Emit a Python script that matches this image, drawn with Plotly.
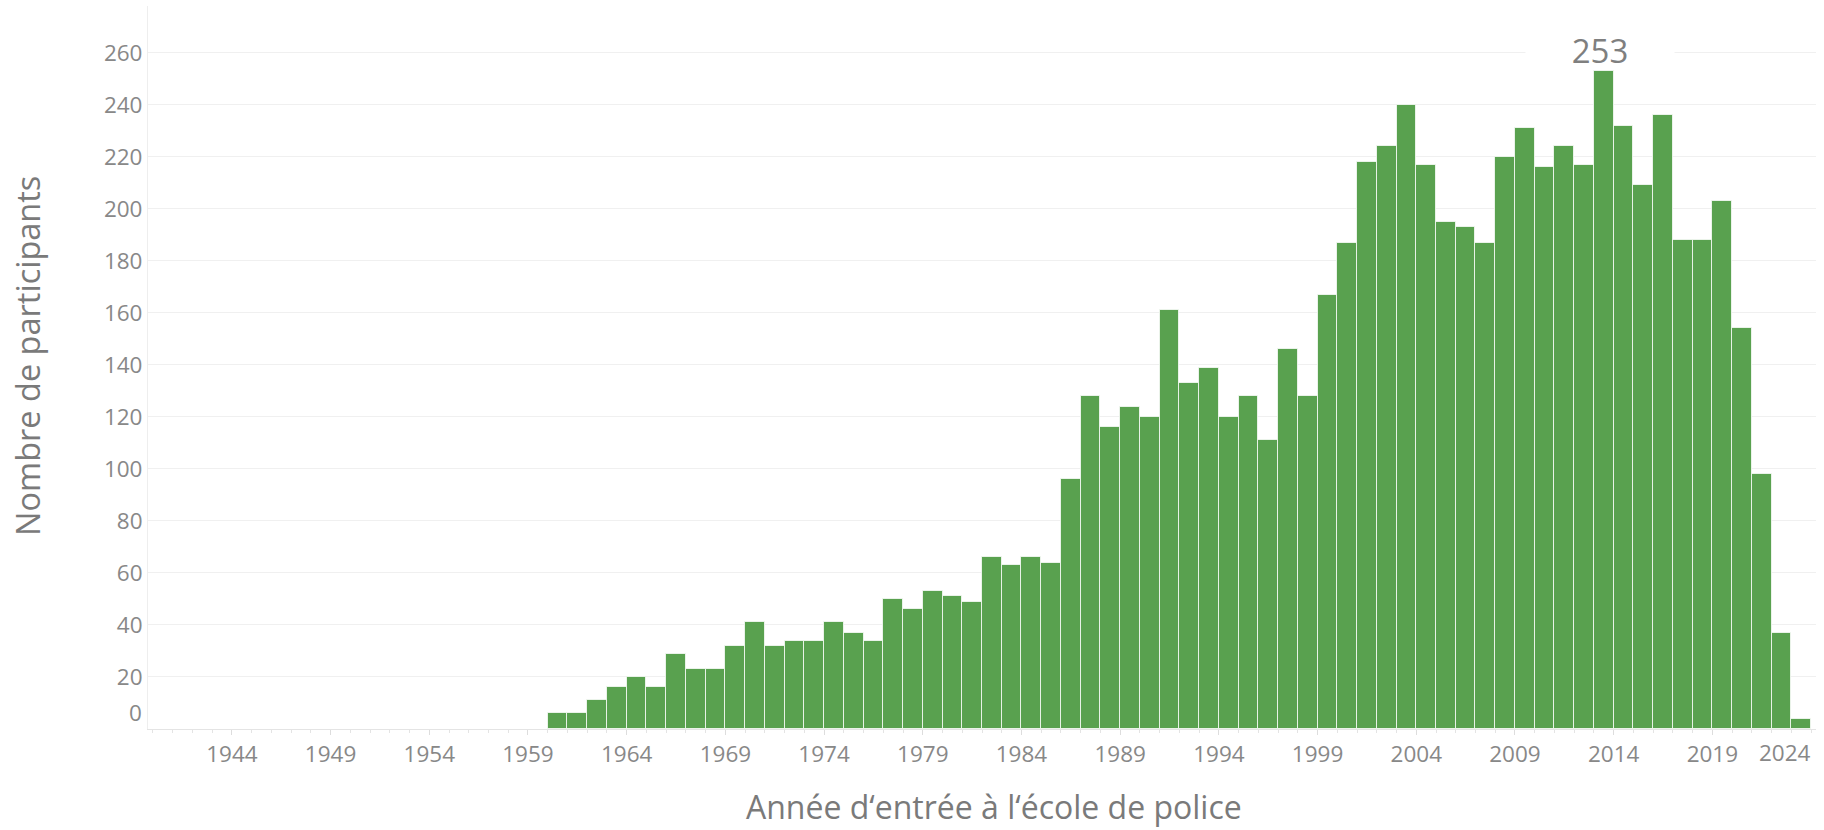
import plotly.graph_objects as go

# participants per year of entry (bins of one year)
years = list(range(1960, 2024))
participants = [
	6, 6, 11, 16, 20, 16, 29, 23, 23, 32,
	41, 32, 34, 34, 41, 37, 34, 50, 46, 53,
	51, 49, 66, 63, 66, 64, 96, 128, 116, 124,
	120, 161, 133, 139, 120, 128, 111, 146, 128, 167,
	187, 218, 224, 240, 217, 195, 193, 187, 220, 231,
	216, 224, 217, 253, 232, 209, 236, 188, 188, 203,
	154, 98, 37, 4,
]

x_ticks = list(range(1944, 2025, 5))
y_ticks = list(range(20, 261, 20))

x_title = "Année d‘entrée à l‘école de police"
y_title = "Nombre de participants"

font_name = "Open Sans"
grey_txt = "#888888"
title_txt = "#7a7a7a"
tick_size = 22.5

bars = go.Bar(
	x=[y + 0.5 for y in years],
	y=participants,
	width=1,
	marker=dict(color="#59a14f", line=dict(color="rgba(255,255,255,0.75)", width=1)),
	hovertemplate="%{customdata}: %{y}<extra></extra>",
	customdata=years,
)

fig = go.Figure(data=[bars])

peak = max(participants)
peak_year = years[participants.index(peak)]

fig.update_layout(
	width=1824,
	height=830,
	margin=dict(l=148, r=8, t=6, b=101),
	paper_bgcolor="white",
	plot_bgcolor="white",
	bargap=0,
	showlegend=False,
	font=dict(family=font_name, color=grey_txt),
	xaxis=dict(
		range=[1939.75, 2024.25],
		tickmode="array",
		tickvals=x_ticks[:-1],
		ticktext=[str(t) for t in x_ticks[:-1]],
		tickfont=dict(size=tick_size, color=grey_txt),
		ticks="outside",
		ticklen=5,
		tickcolor="#dddddd",
		minor=dict(tick0=1940, dtick=1, ticks="outside", ticklen=3, tickcolor="#e4e4e4"),
		showgrid=False,
		showline=True,
		linecolor="#e4e4e4",
		linewidth=1,
		zeroline=False,
	),
	yaxis=dict(
		range=[0, 278],
		tickmode="array",
		tickvals=y_ticks,
		ticktext=[str(t) for t in y_ticks],
		tickfont=dict(size=tick_size, color=grey_txt),
		ticks="",
		showgrid=True,
		gridcolor="#f0f0f0",
		gridwidth=1,
		showline=True,
		linecolor="#eeeeee",
		linewidth=1,
		zeroline=False,
	),
)

# axis titles (placed as in the original, slightly off-centre)
fig.add_annotation(x=0.507, xref="paper", xanchor="center",
	y=0, yref="paper", yanchor="middle", yshift=-77,
	text=x_title, showarrow=False, font=dict(size=32, color=title_txt))
fig.add_annotation(x=0, xref="paper", xanchor="center", xshift=-120,
	y=0.516, yref="paper", yanchor="middle", textangle=-90,
	text=y_title, showarrow=False, font=dict(size=32.5, color=title_txt))

# "0" sits a little above the baseline, "2024" is pulled inside the right edge
fig.add_annotation(x=0, xref="paper", xanchor="right", xshift=-4,
	y=0, yref="y", yanchor="bottom", yshift=-1,
	text="0", showarrow=False, font=dict(size=tick_size, color=grey_txt))
fig.add_annotation(x=x_ticks[-1], xref="x", xanchor="right", xshift=2,
	y=0, yref="y", yanchor="top", yshift=-6,
	text=str(x_ticks[-1]), showarrow=False, font=dict(size=tick_size, color=grey_txt))

# peak label with white box hiding the gridline
fig.add_annotation(x=peak_year + 0.5, y=peak, xref="x", yref="y",
	yanchor="bottom", yshift=1, xshift=-4,
	text=str(peak), showarrow=False, width=146, height=36,
	bgcolor="white", font=dict(size=33, color="#7f7f7f"))

fig.write_html("out.html", config={"displayModeBar": False},
	post_script="document.body.style.margin='0';")
